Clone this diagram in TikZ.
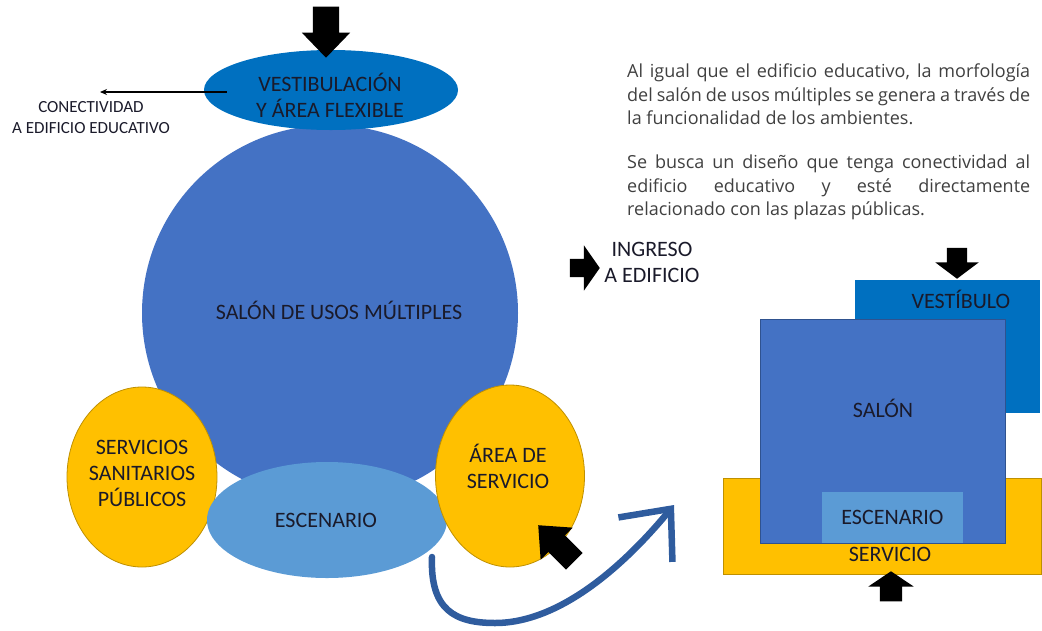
\documentclass[tikz,border=0pt]{standalone}
\usepackage{fontspec}
\setmainfont{Carlito}
\newfontfamily\parafont{Open Sans}
\usetikzlibrary{positioning, shapes.geometric, shapes.arrows, arrows.meta}

\definecolor{vestblue}{HTML}{0070C0}
\definecolor{salonblue}{HTML}{4472C4}
\definecolor{salonedge}{HTML}{2F528F}
\definecolor{stageblue}{HTML}{5B9BD5}
\definecolor{servyellow}{HTML}{FFC000}
\definecolor{servedge}{HTML}{BF9000}
\definecolor{curveblue}{HTML}{2F5C9E}
\definecolor{labeltxt}{HTML}{1A1A2A}

\newcommand{\lblfont}{\fontsize{22}{26}\selectfont}
\newcommand{\smallfont}{\fontsize{17}{21}\selectfont}

\begin{document}
\begin{tikzpicture}[x=1pt, y=-1pt,
    zone/.style={ellipse, inner sep=0pt},
    room/.style={rectangle, inner sep=0pt, text=labeltxt, font=\lblfont},
    lbl/.style={inner sep=0pt, align=center, text=labeltxt, font=\lblfont},
    para/.style={inner sep=0pt, align=left, text=black!75,
                 font=\parafont\fontsize{18}{23.5}\selectfont},
    blockarw/.style={single arrow, fill=black, draw=none, inner xsep=0pt, anchor=tip},
    thinarw/.style={-{Stealth[length=7pt, width=6pt]}, line width=1.1pt},
    flow/.style={draw=curveblue, line width=6.5pt, line cap=round,
                 -{Straight Barb[length=40pt, width=70pt, line width=6.5pt]}},
]
\useasboundingbox (0,0) rectangle (1042,630);

% scheme of zones
\node[zone, fill=salonblue, minimum width=376pt, minimum height=376pt] (salon) at (330,313) {};
\node[zone, fill=vestblue, minimum width=254pt, minimum height=80pt] (vest) at (331,90) {};
\node[zone, fill=servyellow, draw=servedge, line width=0.8pt, minimum width=150pt, minimum height=180pt] (sanit) at (142,477) {};
\node[zone, fill=stageblue, minimum width=240pt, minimum height=116pt] (stage) at (327,520) {};
\node[zone, fill=servyellow, draw=servedge, line width=0.8pt, minimum width=149pt, minimum height=182pt] (area) at (510,476) {};

\node[lbl] (salonTxt) at (339,310) {SALÓN DE USOS MÚLTIPLES};
\node[lbl] (vestTxt) at (330,95) {VESTIBULACIÓN\\Y ÁREA FLEXIBLE};
\node[lbl] (sanitTxt) at (142,473) {SERVICIOS\\SANITARIOS\\PÚBLICOS};
\node[lbl] (stageTxt) at (326,520) {ESCENARIO};
\node[lbl] (areaTxt) at (508,466) {ÁREA DE\\SERVICIO};

% entrances
\node[blockarw, rotate=-90, minimum height=51pt, minimum width=48pt, inner ysep=13pt,
      single arrow head extend=11pt, single arrow tip angle=88] (inTop) at (326,58) {};
\node[blockarw, minimum height=30pt, minimum width=45pt, inner ysep=9pt,
      single arrow head extend=13.5pt, single arrow tip angle=110] (inSide) at (600,268) {};
\node[lbl] (inSideTxt) at (652,262) {INGRESO\\A EDIFICIO};
\node[blockarw, rotate=135, minimum height=51pt, minimum width=45pt, inner ysep=11.5pt,
      single arrow head extend=11pt, single arrow tip angle=82] (inServ) at (538,525) {};

% connection to the school
\coordinate (conn) at (100,92);
\draw[thinarw] ([xshift=23pt, yshift=-2pt]vest.west) -- (conn);
\node[lbl, font=\smallfont] (connTxt) at (91,118) {CONECTIVIDAD\\A EDIFICIO EDUCATIVO};

% from scheme to plan
\coordinate (flowA) at (432,557);
\coordinate (flowB) at (674,505);
\draw[flow] (flowA) .. controls (430,610) and (455,623) .. (495,623)
            .. controls (565,623) and (632,556) .. (flowB);

% plan
\node[room, fill=vestblue, minimum width=185pt, minimum height=133pt] (vestib) at (947.5,346.5) {};
\node[lbl] (vestibTxt) at (961,299) {VESTÍBULO};
\node[room, fill=servyellow, draw=servedge, line width=0.8pt, minimum width=318pt, minimum height=96pt] (serv) at (882,526) {};
\node[room, fill=salonblue, draw=salonedge, line width=0.8pt, minimum width=245pt, minimum height=224pt] (hall) at (882.5,431) {};
\node[lbl] (hallTxt) at (883,408) {SALÓN};
\node[room, fill=stageblue, minimum width=141pt, minimum height=51pt] (stagebox) at (892.5,517.5) {ESCENARIO};
\node[lbl] (servTxt) at (890,554) {SERVICIO};
\node[blockarw, rotate=-90, minimum height=31pt, minimum width=43pt, inner ysep=10pt,
      single arrow head extend=11.5pt, single arrow tip angle=106] (inVest) at (957,279) {};
\node[blockarw, rotate=90, minimum height=30pt, minimum width=45pt, inner ysep=11pt,
      single arrow head extend=11.5pt, single arrow tip angle=112] (inServB) at (891,571) {};

% description
\node[para, anchor=north west] (desc) at (627,64) {%
\makebox[403pt][s]{Al igual que el edificio educativo, la morfología}\\
\makebox[403pt][s]{del salón de usos múltiples se genera a través de}\\
la funcionalidad de los ambientes.\\[20.5pt]
\makebox[403pt][s]{Se busca un diseño que tenga conectividad al}\\
\makebox[403pt][s]{edificio educativo y esté directamente}\\
relacionado con las plazas públicas.};
\end{tikzpicture}
\end{document}
